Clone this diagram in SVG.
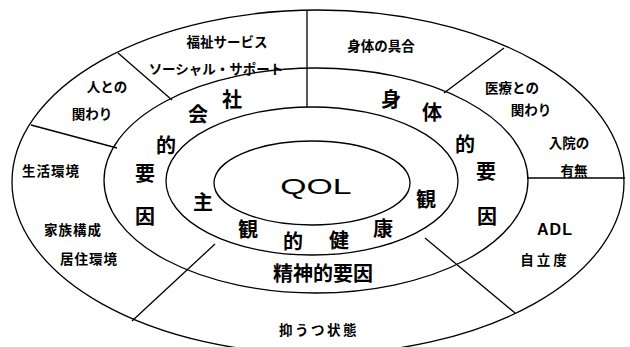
<svg xmlns="http://www.w3.org/2000/svg" width="630" height="347" viewBox="0 0 630 347">
<style>
.ring{fill:none;stroke:#000;stroke-width:1.3}
.div{stroke:#000;stroke-width:1.3;fill:none}
.s{font-family:"Noto Sans CJK JP","Noto Sans",sans-serif;font-size:13.5px;font-weight:bold;text-anchor:middle;dominant-baseline:central;fill:#000}
.b{font-family:"Noto Sans CJK JP","Noto Sans",sans-serif;font-size:20px;font-weight:bold;text-anchor:middle;dominant-baseline:central;fill:#000}
.l{font-family:"Liberation Sans",Arial,sans-serif;text-anchor:middle;fill:#000}
</style>
<rect width="630" height="347" fill="#fff"/>
<g id="rings">
<ellipse class="ring" cx="318" cy="182" rx="306" ry="172"/>
<ellipse class="ring" cx="316" cy="180.5" rx="212" ry="112.5"/>
<ellipse class="ring" cx="312" cy="181" rx="146" ry="74"/>
<ellipse class="ring" cx="312" cy="183" rx="98" ry="42"/>
</g>
<g id="connectors">
<line class="div" x1="307" y1="10" x2="307" y2="107"/>
<line class="div" x1="118" y1="53" x2="172" y2="100"/>
<line class="div" x1="31" y1="125" x2="117" y2="148"/>
<line class="div" x1="504" y1="48" x2="444" y2="93"/>
<line class="div" x1="527" y1="178" x2="625" y2="178"/>
<line class="div" x1="215" y1="244" x2="132" y2="321"/>
<line class="div" x1="425" y1="238" x2="515" y2="313"/>
</g>
<g id="qol">
<text class="l" transform="translate(316,193.5) scale(1.5,1)" x="0" y="0" font-size="22.5">QOL</text>
</g>
<g id="subjective-health">
<text class="b" x="203" y="201">主</text>
<text class="b" x="248" y="228">観</text>
<text class="b" x="293" y="240">的</text>
<text class="b" x="339" y="239">健</text>
<text class="b" x="383" y="227">康</text>
<text class="b" x="426" y="198">観</text>
</g>
<g id="social-factors">
<text class="b" x="232" y="98">社</text>
<text class="b" x="198" y="113">会</text>
<text class="b" x="166" y="144">的</text>
<text class="b" x="145" y="172">要</text>
<text class="b" x="145" y="215">因</text>
</g>
<g id="physical-factors">
<text class="b" x="391" y="98">身</text>
<text class="b" x="432" y="111">体</text>
<text class="b" x="465" y="143">的</text>
<text class="b" x="486" y="170">要</text>
<text class="b" x="487" y="215">因</text>
</g>
<g id="mental-factors">
<text class="b" x="323" y="272" font-size="22">精神的要因</text>
</g>
<g id="social-items">
<text class="s" x="227" y="41">福祉サービス</text>
<text class="s" x="216" y="68" font-size="11">ソーシャル・サポート</text>
<text class="s" x="107" y="86">人との</text>
<text class="s" x="92" y="112.5">関わり</text>
<text class="s" x="51" y="170" letter-spacing="1">生活環境</text>
<text class="s" x="73" y="229" letter-spacing="1">家族構成</text>
<text class="s" x="89" y="257.5" letter-spacing="1">居住環境</text>
</g>
<g id="physical-items">
<text class="s" x="381" y="45">身体の具合</text>
<text class="s" x="512" y="86.5">医療との</text>
<text class="s" x="531" y="109">関わり</text>
<text class="s" x="569" y="141.5">入院の</text>
<text class="s" x="574" y="170">有無</text>
<text class="l" x="555" y="235" font-size="16" font-weight="bold" letter-spacing="1">ADL</text>
<text class="s" x="545" y="258.5" letter-spacing="3">自立度</text>
</g>
<g id="mental-items">
<text class="s" x="319" y="329" letter-spacing="2.5">抑うつ状態</text>
</g>
</svg>
